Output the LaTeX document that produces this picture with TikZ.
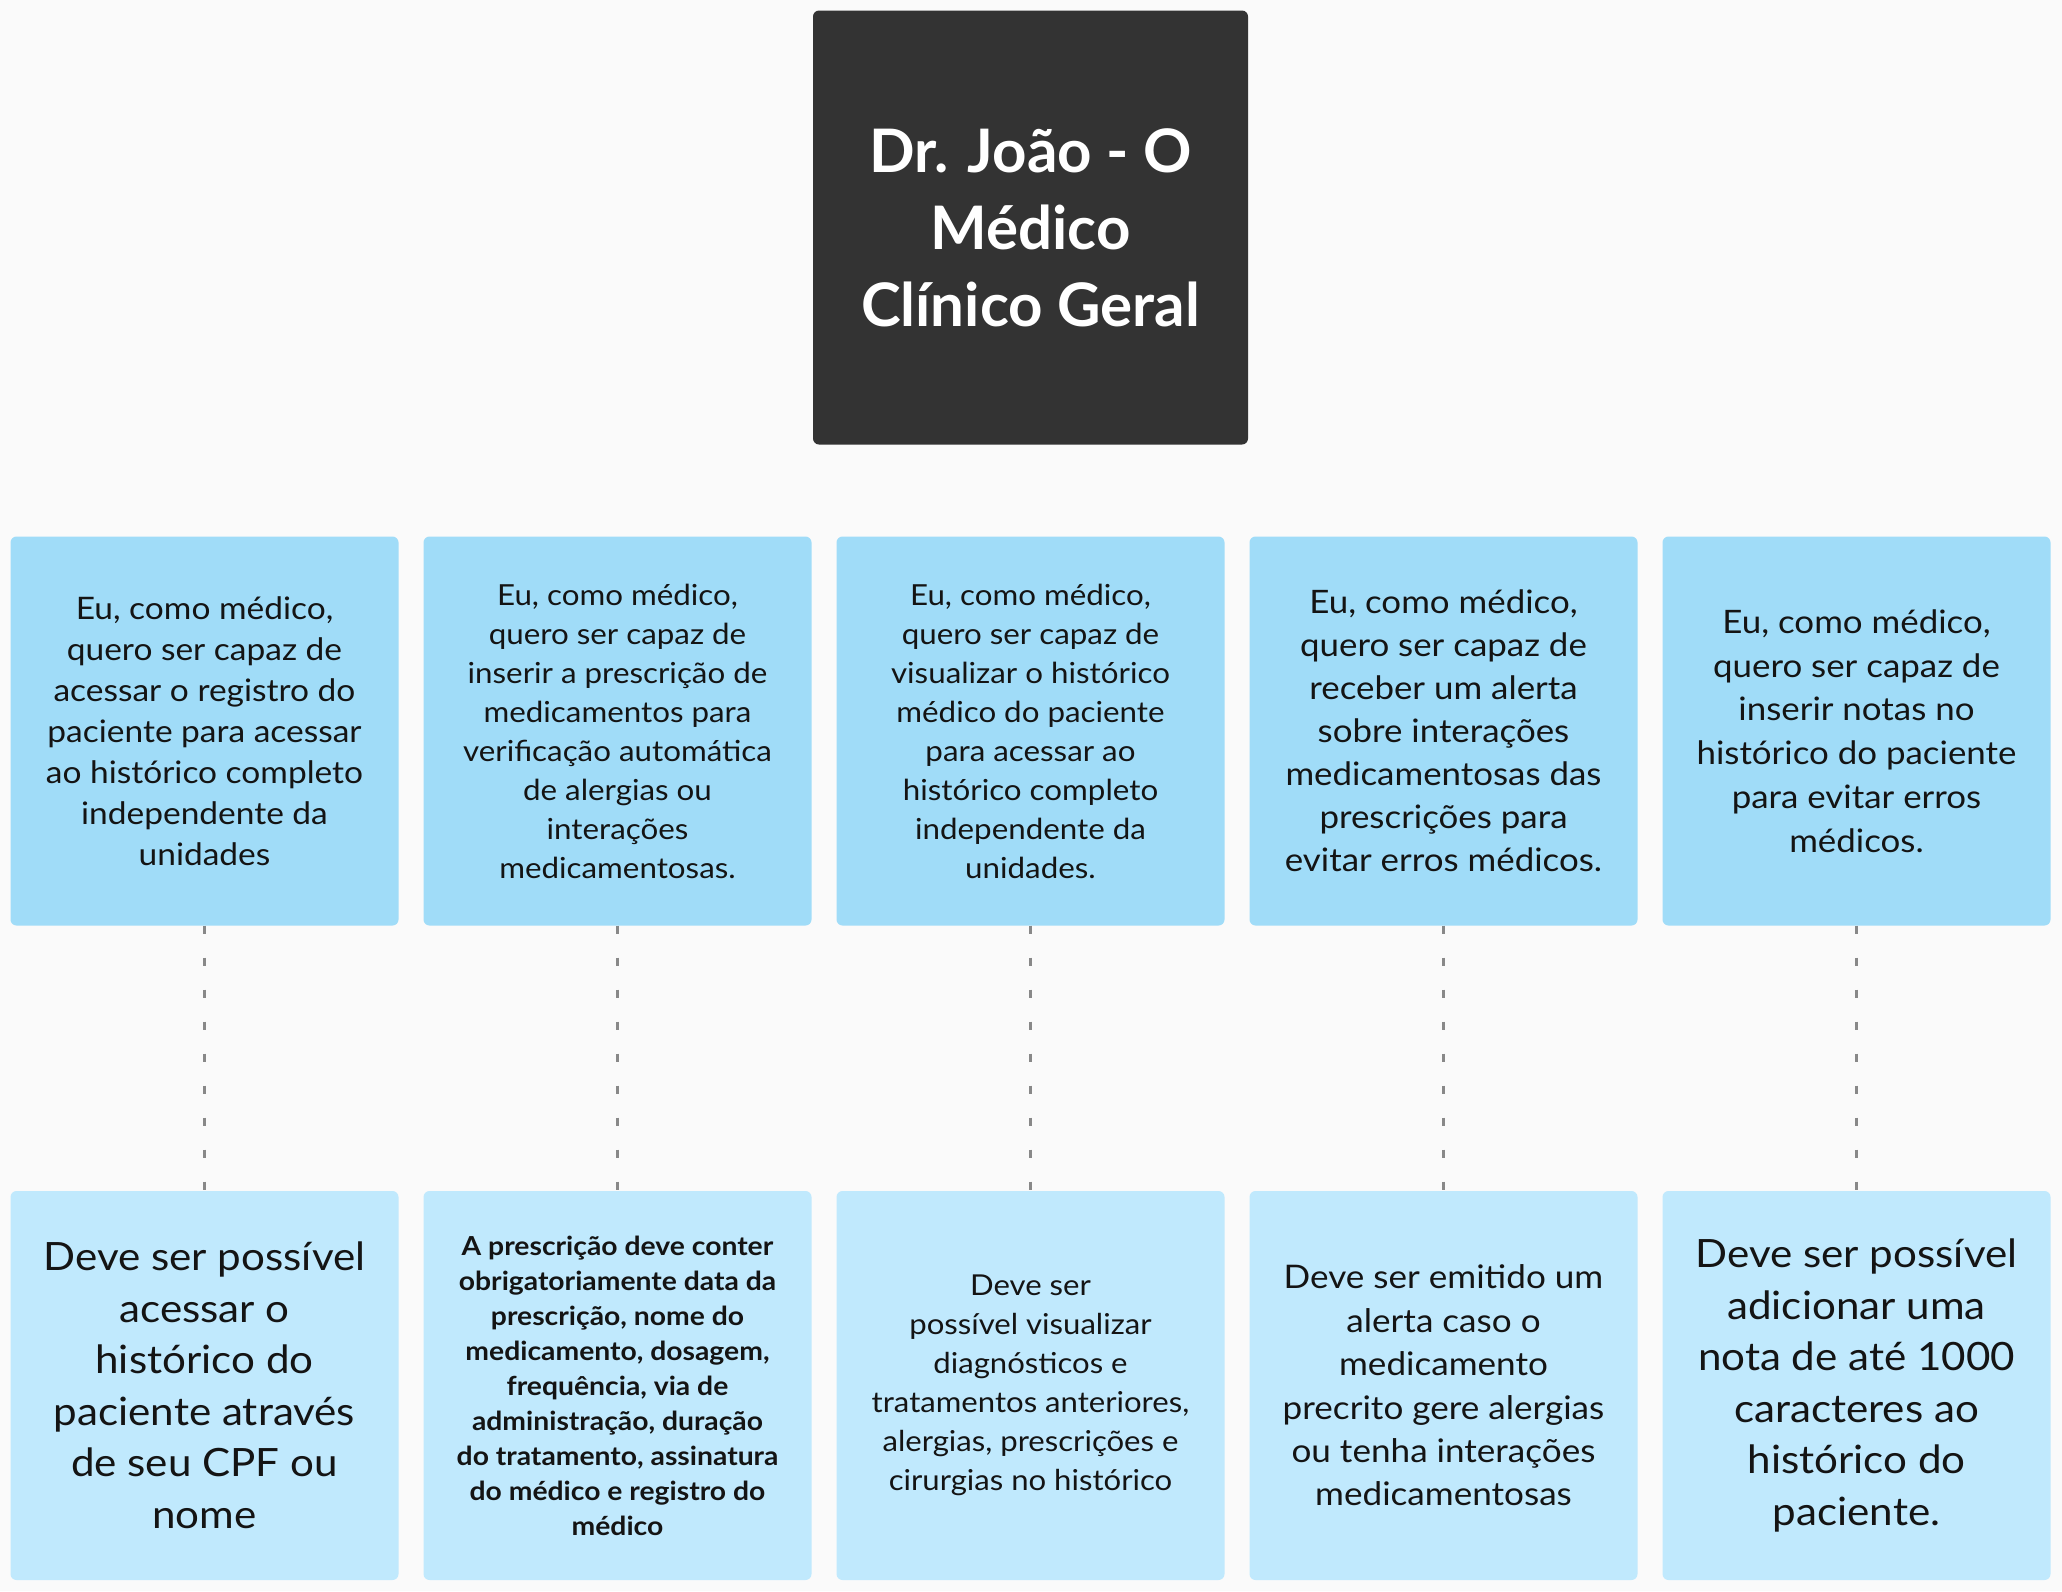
\documentclass[tikz,border=0pt]{standalone}
\usepackage{fontspec}
\setmainfont{Lato}[FakeStretch=1.08]
\newfontfamily\titlefont{Lato}
\begin{document}
\definecolor{bg}{RGB}{250,250,250}
\definecolor{topblue}{RGB}{160,220,248}
\definecolor{botblue}{RGB}{192,233,253}
\definecolor{dark}{RGB}{51,51,51}
\definecolor{txt}{RGB}{20,20,20}
\definecolor{dashc}{RGB}{136,136,136}
\tikzset{
  card/.style={rounded corners=6pt, minimum width=388pt, minimum height=389pt, inner sep=0pt, align=center, text=txt},
  topcard/.style={card, fill=topblue},
  botcard/.style={card, fill=botblue},
  titlecard/.style={rounded corners=6pt, fill=dark, minimum width=435pt, minimum height=434pt, inner sep=0pt, align=center, text=white, font=\titlefont\bfseries\fontsize{60}{77}\selectfont},
  link/.style={draw=dashc, line width=3pt, dash pattern=on 8pt off 24pt}
}
\begin{tikzpicture}[x=1pt,y=1pt]
\fill[bg] (0,0) rectangle (2062,-1591);
\useasboundingbox (0,0) rectangle (2062,-1591);

\node[titlecard] (title) at (1030.5,-227.5) {Dr. João - O\\Médico\\Clínico Geral};

\node[topcard, font=\fontsize{31}{41}\selectfont] (t1) at (204.5,-731) {Eu, como médico,\\quero ser capaz de\\acessar o registro do\\paciente para acessar\\ao histórico completo\\independente da\\unidades};
\node[topcard, font=\fontsize{29}{39}\selectfont] (t2) at (617.5,-731) {Eu, como médico,\\quero ser capaz de\\inserir a prescrição de\\medicamentos para\\verificação automática\\de alergias ou\\interações\\medicamentosas.};
\node[topcard, font=\fontsize{29}{39}\selectfont] (t3) at (1030.5,-731) {Eu, como médico,\\quero ser capaz de\\visualizar o histórico\\médico do paciente\\para acessar ao\\histórico completo\\independente da\\unidades.};
\node[topcard, font=\fontsize{32.3}{43}\selectfont] (t4) at (1443.5,-731) {Eu, como médico,\\quero ser capaz de\\receber um alerta\\sobre interações\\medicamentosas das\\prescrições para\\evitar erros médicos.};
\node[topcard, font=\fontsize{32.3}{43.7}\selectfont] (t5) at (1856.5,-731) {Eu, como médico,\\quero ser capaz de\\inserir notas no\\histórico do paciente\\para evitar erros\\médicos.};

\node[botcard, font=\fontsize{39}{51.5}\selectfont] (b1) at (204.5,-1385.5) {Deve ser possível\\acessar o\\histórico do\\paciente através\\de seu CPF ou\\nome};
\node[botcard, font=\bfseries\fontsize{26.2}{35}\selectfont] (b2) at (617.5,-1385.5) {A prescrição deve conter\\obrigatoriamente data da\\prescrição, nome do\\medicamento, dosagem,\\frequência, via de\\administração, duração\\do tratamento, assinatura\\do médico e registro do\\médico};
\node[botcard, font=\fontsize{28.8}{39}\selectfont] (b3) at (1030.5,-1385.5) {Deve ser\\possível visualizar\\diagnósticos e\\tratamentos anteriores,\\alergias, prescrições e\\cirurgias no histórico};
\node[botcard, font=\fontsize{32.5}{43.4}\selectfont] (b4) at (1443.5,-1385.5) {Deve ser emitido um\\alerta caso o\\medicamento\\precrito gere alergias\\ou tenha interações\\medicamentosas};
\node[botcard, font=\fontsize{39}{51.5}\selectfont] (b5) at (1856.5,-1385.5) {Deve ser possível\\adicionar uma\\nota de até 1000\\caracteres ao\\histórico do\\paciente.};

\foreach \i in {1,...,5} {
  \draw[link] (t\i.south) -- (b\i.north);
}
\end{tikzpicture}
\end{document}
